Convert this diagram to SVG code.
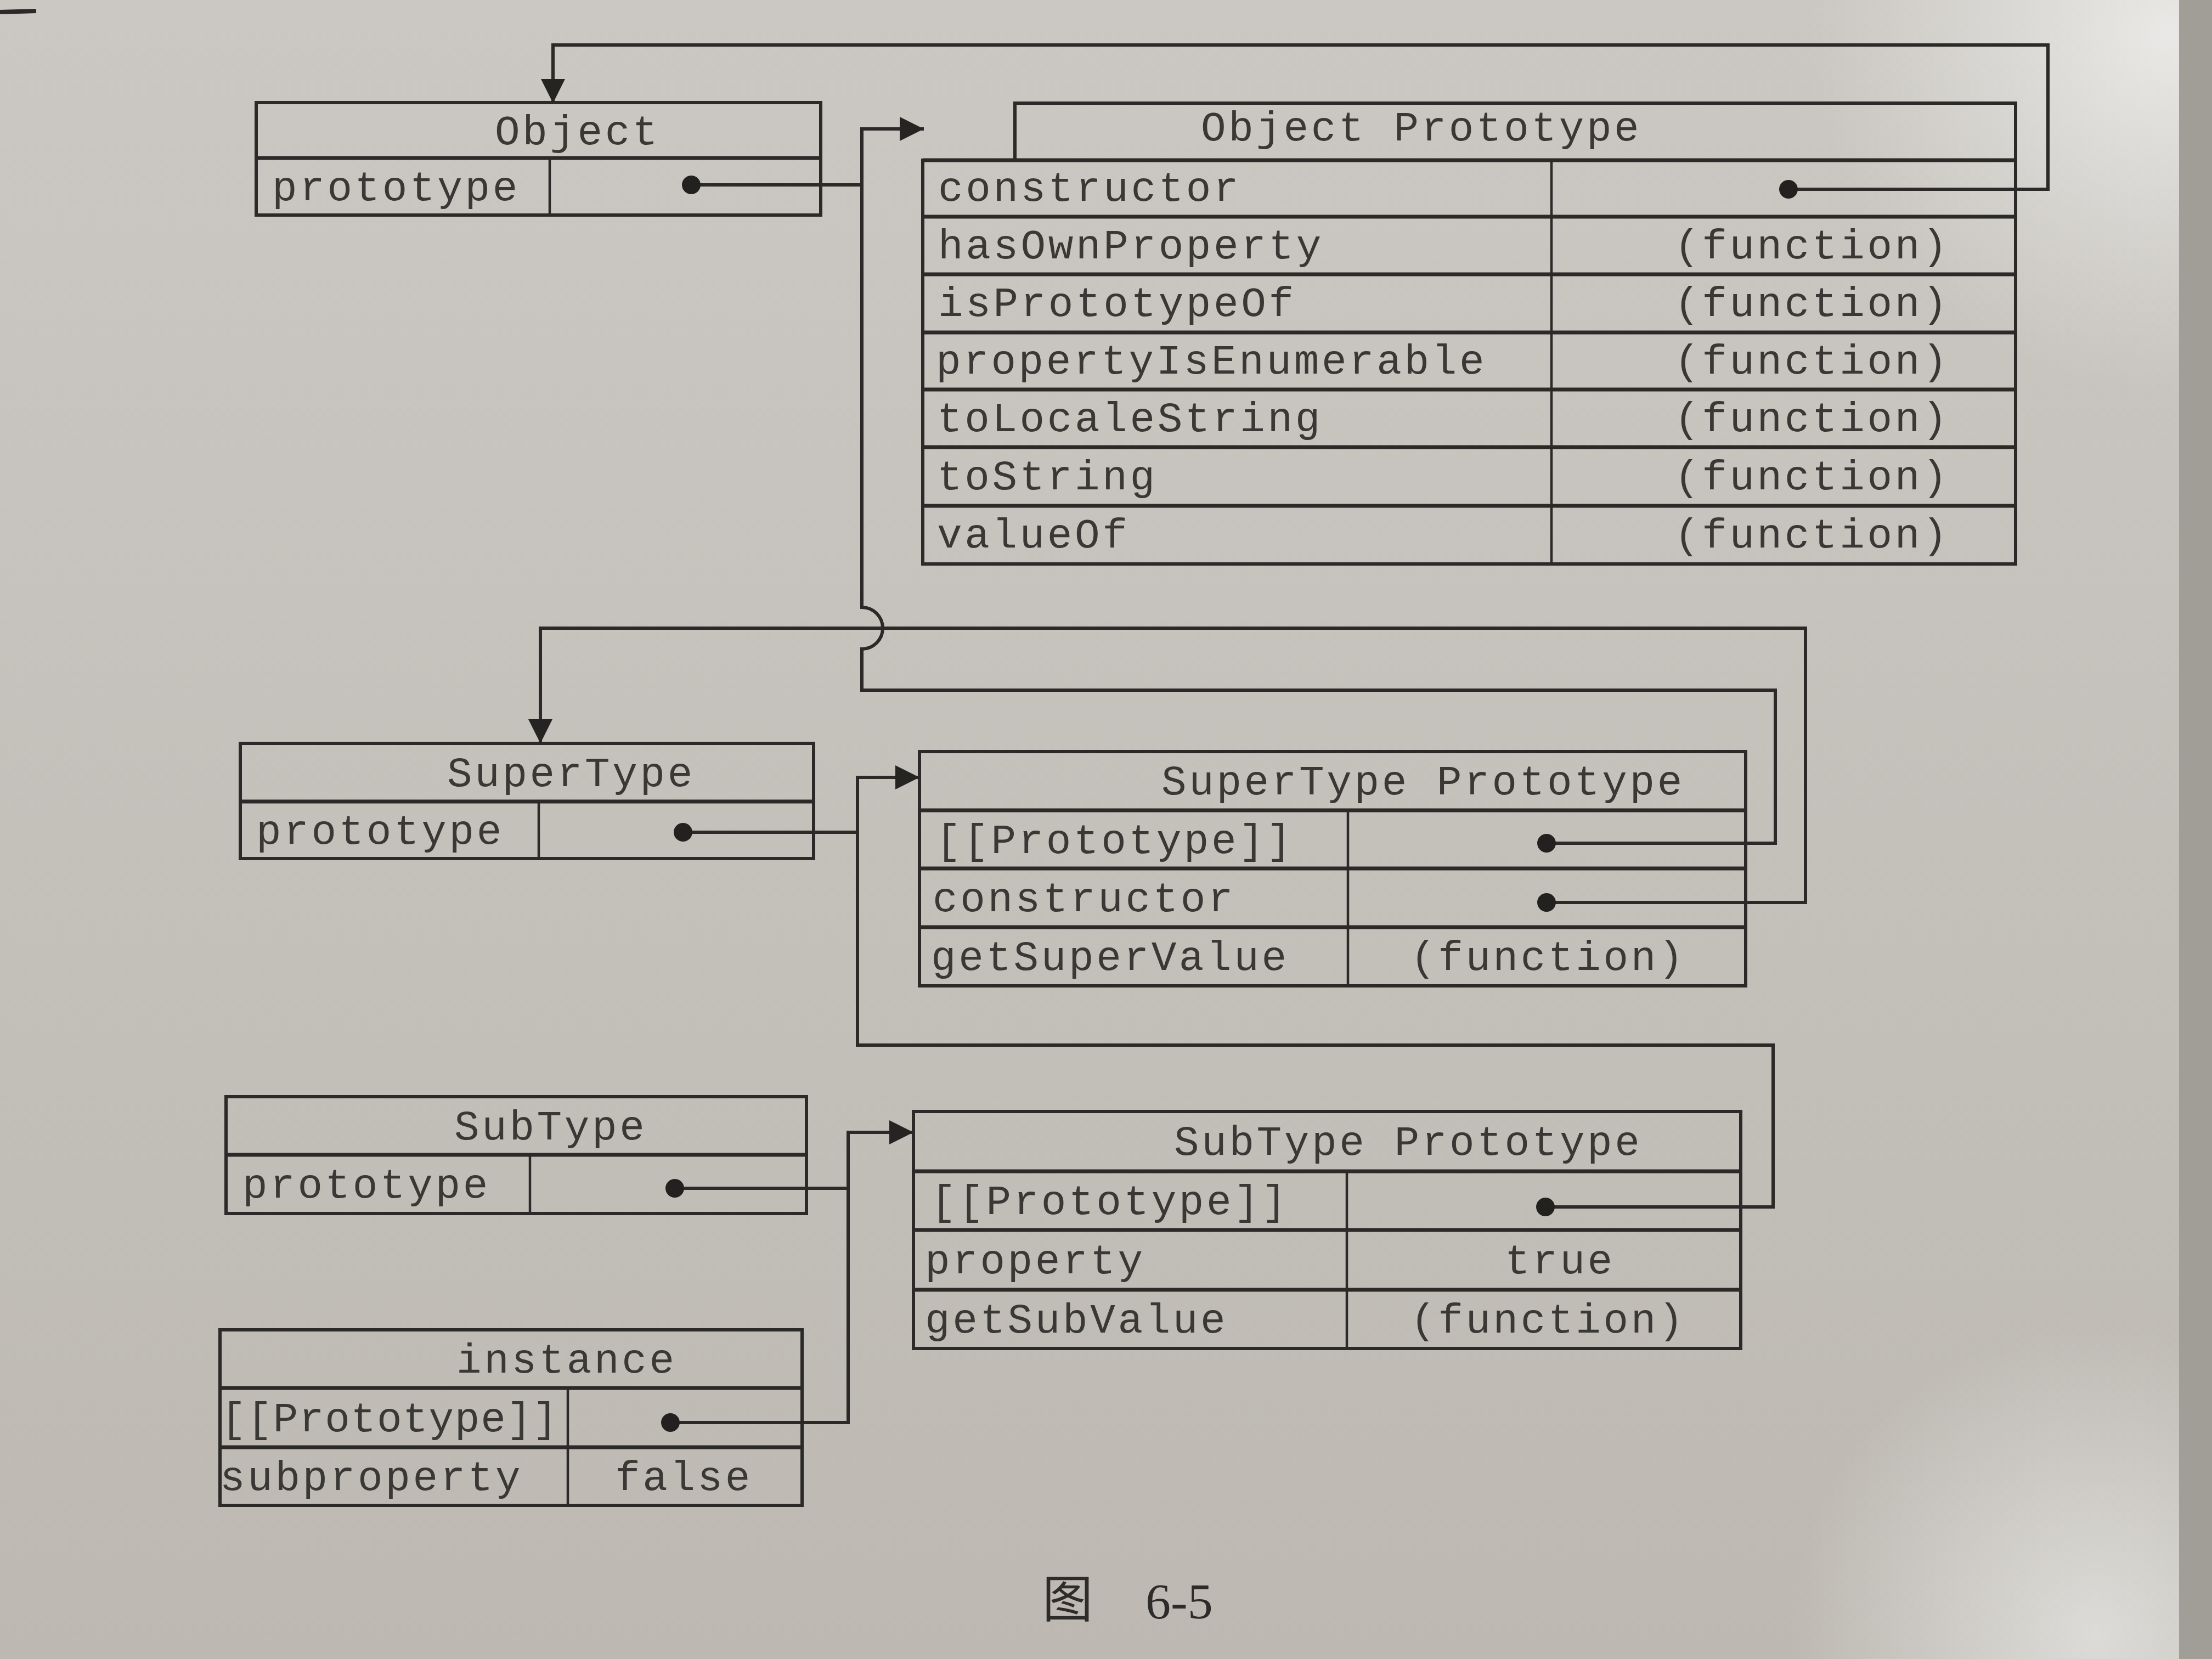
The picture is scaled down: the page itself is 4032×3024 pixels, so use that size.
<svg xmlns="http://www.w3.org/2000/svg" width="4032" height="3024" viewBox="0 0 4032 3024">
  <defs>
    <radialGradient id="glareTop" cx="3950" cy="60" r="650" gradientUnits="userSpaceOnUse">
      <stop offset="0" stop-color="#ebeae8" stop-opacity="0.95"/>
      <stop offset="1" stop-color="#e4e3e0" stop-opacity="0"/>
    </radialGradient>
    <radialGradient id="glareBottom" cx="3820" cy="2980" r="560" gradientUnits="userSpaceOnUse">
      <stop offset="0" stop-color="#e2e1de" stop-opacity="0.85"/>
      <stop offset="1" stop-color="#e2e1de" stop-opacity="0"/>
    </radialGradient>
    <linearGradient id="paper" x1="0" y1="0" x2="0" y2="1">
      <stop offset="0" stop-color="#cbc8c3"/>
      <stop offset="0.5" stop-color="#c4c1bb"/>
      <stop offset="1" stop-color="#bdb9b2"/>
    </linearGradient>
    <marker id="arrow" markerWidth="46" markerHeight="48" refX="44" refY="24" orient="auto" markerUnits="userSpaceOnUse">
      <path d="M0,2 L44,24 L0,46 Z" fill="#252422"/>
    </marker>
    <style>
      .frame { fill: none; stroke: #2b2a28; stroke-width: 6; }
      .sep { fill: none; stroke: #2b2a28; stroke-width: 7; }
      .div { fill: none; stroke: #2b2a28; stroke-width: 4.5; }
      .wire { fill: none; stroke: #2b2a28; stroke-width: 6; stroke-linejoin: miter; }
      .arrow { marker-end: url(#arrow); }
      .dot { fill: #222120; }
      text { font-family: "Liberation Mono", "DejaVu Sans Mono", monospace; font-size: 76px; letter-spacing: 4.6px; fill: #3a3835; }
      .caption { font-family: "Liberation Serif", "Noto Sans CJK SC", serif; font-size: 92px; letter-spacing: 0; fill: #2e2c2a; }
    </style>
  </defs>

  <!-- paper -->
  <rect x="0" y="0" width="4032" height="3024" fill="url(#paper)"/>
  <rect x="0" y="0" width="4032" height="3024" fill="url(#glareTop)"/>
  <rect x="0" y="0" width="4032" height="3024" fill="url(#glareBottom)"/>
  <rect x="3972" y="0" width="60" height="3024" fill="#a19d97"/>
  <line x1="0" y1="22" x2="66" y2="20" stroke="#2b2a28" stroke-width="8"/>

  <!-- Object -->
  <g id="object">
    <rect class="frame" x="467" y="187" width="1029" height="205"/>
    <line class="sep" x1="467" y1="288" x2="1496" y2="288"/>
    <line class="div" x1="1002" y1="288" x2="1002" y2="392"/>
    <text x="902" y="263">Object</text>
    <text x="496" y="365">prototype</text>
  </g>

  <!-- Object Prototype -->
  <g id="object-prototype">
    <path class="frame" d="M1850,292 V188 H3674 V1028 H1682 V292 Z"/>
    <line class="sep" x1="1682" y1="292" x2="3674" y2="292"/>
    <line class="sep" x1="1682" y1="395" x2="3674" y2="395"/>
    <line class="sep" x1="1682" y1="500" x2="3674" y2="500"/>
    <line class="sep" x1="1682" y1="606" x2="3674" y2="606"/>
    <line class="sep" x1="1682" y1="710" x2="3674" y2="710"/>
    <line class="sep" x1="1682" y1="815" x2="3674" y2="815"/>
    <line class="sep" x1="1682" y1="922" x2="3674" y2="922"/>
    <line class="div" x1="2828" y1="292" x2="2828" y2="1028"/>
    <text x="2189" y="256">Object Prototype</text>
    <text x="1710" y="366">constructor</text>
    <text x="1710" y="471">hasOwnProperty</text>
    <text x="1710" y="576">isPrototypeOf</text>
    <text x="1706" y="681">propertyIsEnumerable</text>
    <text x="1708" y="786">toLocaleString</text>
    <text x="1708" y="892">toString</text>
    <text x="1708" y="998">valueOf</text>
    <text x="3052" y="471">(function)</text>
    <text x="3052" y="576">(function)</text>
    <text x="3052" y="681">(function)</text>
    <text x="3052" y="786">(function)</text>
    <text x="3052" y="892">(function)</text>
    <text x="3052" y="998">(function)</text>
  </g>

  <!-- SuperType -->
  <g id="supertype">
    <rect class="frame" x="438" y="1355" width="1045" height="210"/>
    <line class="sep" x1="438" y1="1461" x2="1483" y2="1461"/>
    <line class="div" x1="982" y1="1461" x2="982" y2="1565"/>
    <text x="815" y="1433">SuperType</text>
    <text x="467" y="1538">prototype</text>
  </g>

  <!-- SuperType Prototype -->
  <g id="supertype-prototype">
    <rect class="frame" x="1676" y="1370" width="1506" height="427"/>
    <line class="sep" x1="1676" y1="1477" x2="3182" y2="1477"/>
    <line class="sep" x1="1676" y1="1583" x2="3182" y2="1583"/>
    <line class="sep" x1="1676" y1="1690" x2="3182" y2="1690"/>
    <line class="div" x1="2457" y1="1477" x2="2457" y2="1797"/>
    <text x="2117" y="1448">SuperType Prototype</text>
    <text x="1706" y="1555">[[Prototype]]</text>
    <text x="1700" y="1661">constructor</text>
    <text x="1697" y="1768">getSuperValue</text>
    <text x="2571" y="1768">(function)</text>
  </g>

  <!-- SubType -->
  <g id="subtype">
    <rect class="frame" x="412" y="1999" width="1058" height="213"/>
    <line class="sep" x1="412" y1="2105" x2="1470" y2="2105"/>
    <line class="div" x1="966" y1="2105" x2="966" y2="2212"/>
    <text x="828" y="2077">SubType</text>
    <text x="442" y="2183">prototype</text>
  </g>

  <!-- SubType Prototype -->
  <g id="subtype-prototype">
    <rect class="frame" x="1665" y="2026" width="1508" height="432"/>
    <line class="sep" x1="1665" y1="2135" x2="3173" y2="2135"/>
    <line class="sep" x1="1665" y1="2242" x2="3173" y2="2242"/>
    <line class="sep" x1="1665" y1="2351" x2="3173" y2="2351"/>
    <line class="div" x1="2455" y1="2135" x2="2455" y2="2458"/>
    <text x="2140" y="2105">SubType Prototype</text>
    <text x="1697" y="2213">[[Prototype]]</text>
    <text x="1686" y="2321">property</text>
    <text x="1686" y="2429">getSubValue</text>
    <text x="2743" y="2321">true</text>
    <text x="2571" y="2429">(function)</text>
  </g>

  <!-- instance -->
  <g id="instance">
    <rect class="frame" x="401" y="2424" width="1061" height="320"/>
    <line class="sep" x1="401" y1="2530" x2="1462" y2="2530"/>
    <line class="sep" x1="401" y1="2638" x2="1462" y2="2638"/>
    <line class="div" x1="1035" y1="2530" x2="1035" y2="2744"/>
    <text x="832" y="2502">instance</text>
    <text x="403" y="2609" textLength="618" lengthAdjust="spacing">[[Prototype]]</text>
    <text x="401" y="2716">subproperty</text>
    <text x="1121" y="2716">false</text>
  </g>

  <!-- pointers -->
  <g id="connectors">
    <!-- Object Prototype.constructor -> Object -->
    <path class="wire arrow" d="M3260,345 H3733 V82 H1008 V188"/>
    <!-- Object.prototype and SuperType Prototype.[[Prototype]] -> Object Prototype -->
    <path class="wire" d="M1260,337 H1571"/>
    <path class="wire arrow" d="M2819,1537 H3236 V1258 H1571 V1183 A38,38 0 0 0 1571,1107 V235 H1684"/>
    <!-- SuperType Prototype.constructor -> SuperType -->
    <path class="wire arrow" d="M2819,1645 H3291 V1145 H985 V1355"/>
    <!-- SuperType.prototype and SubType Prototype.[[Prototype]] -> SuperType Prototype -->
    <path class="wire" d="M1245,1517 H1563"/>
    <path class="wire arrow" d="M2817,2200 H3232 V1905 H1563 V1417 H1676"/>
    <!-- SubType.prototype and instance.[[Prototype]] -> SubType Prototype -->
    <path class="wire" d="M1230,2166 H1546"/>
    <path class="wire arrow" d="M1222,2593 H1546 V2064 H1665"/>
    <!-- pointer origins -->
    <circle class="dot" cx="1260" cy="337" r="17"/>
    <circle class="dot" cx="3260" cy="345" r="17"/>
    <circle class="dot" cx="1245" cy="1517" r="17"/>
    <circle class="dot" cx="2819" cy="1537" r="17"/>
    <circle class="dot" cx="2819" cy="1645" r="17"/>
    <circle class="dot" cx="1230" cy="2166" r="17"/>
    <circle class="dot" cx="2817" cy="2200" r="17"/>
    <circle class="dot" cx="1222" cy="2593" r="17"/>
  </g>

  <!-- figure caption -->
  <text class="caption" x="1900" y="2948">图</text>
  <text class="caption" x="2088" y="2950">6-5</text>
</svg>
